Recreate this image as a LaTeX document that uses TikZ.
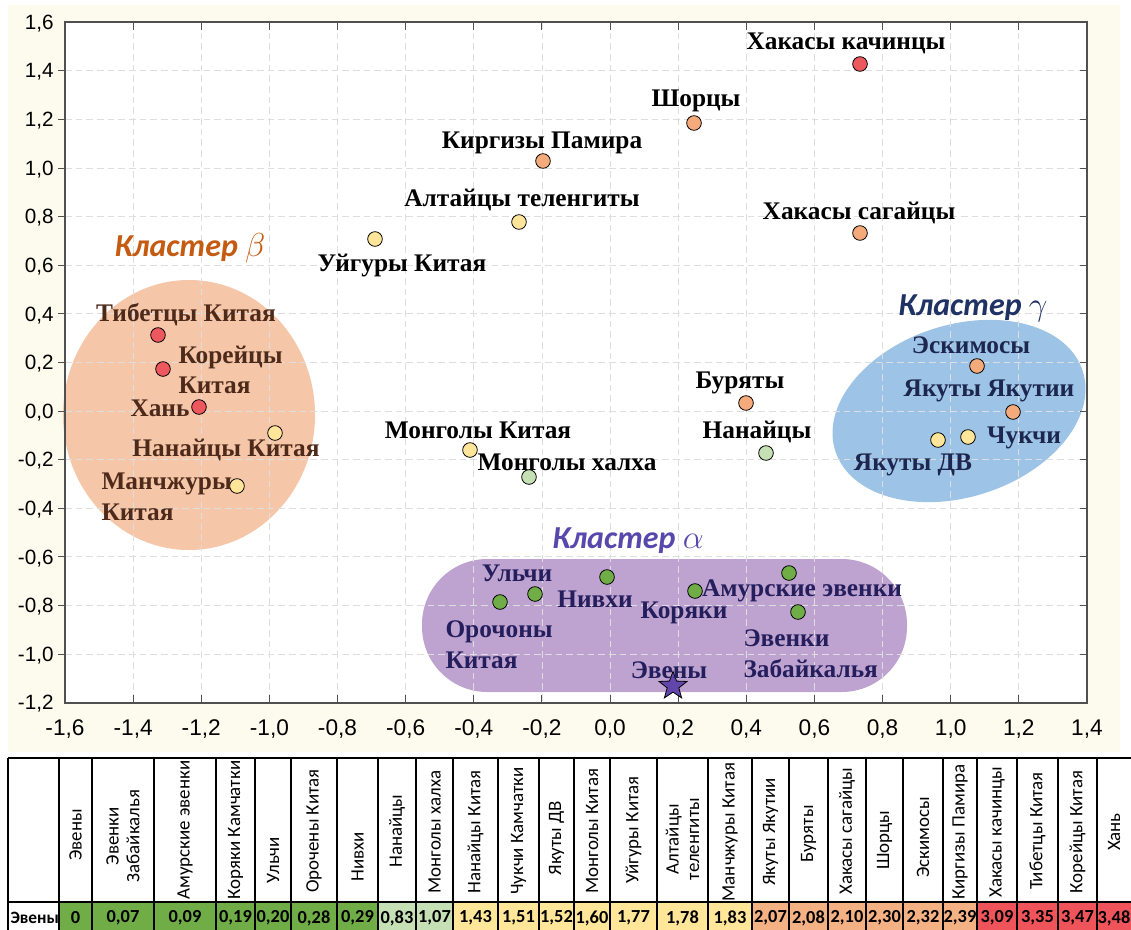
\documentclass[tikz,border=0pt]{standalone}
\usepackage{fontspec}
\setmainfont{Liberation Serif}
\newfontfamily\axisfont{Liberation Sans}
\newfontfamily\tablefont{Carlito}
\usetikzlibrary{shapes.geometric}

\definecolor{bgCream}{RGB}{252,251,238}
\definecolor{gridGray}{RGB}{222,222,222}
\definecolor{frameGray}{RGB}{80,80,80}
\definecolor{betaFill}{RGB}{245,198,168}
\definecolor{gammaFill}{RGB}{157,195,230}
\definecolor{alphaFill}{RGB}{190,162,208}
\definecolor{betaText}{RGB}{197,90,17}
\definecolor{gammaText}{RGB}{31,50,100}
\definecolor{alphaText}{RGB}{88,72,172}
\definecolor{brownLbl}{RGB}{78,42,26}
\definecolor{navyLbl}{RGB}{28,38,78}
\definecolor{indigoLbl}{RGB}{36,30,92}
\definecolor{dRed}{RGB}{236,88,94}
\definecolor{dOrange}{RGB}{244,170,122}
\definecolor{dYellow}{RGB}{255,229,153}
\definecolor{dLight}{RGB}{197,224,180}
\definecolor{dGreen}{RGB}{112,173,71}
\definecolor{starPurple}{RGB}{98,70,172}
\definecolor{tGreen}{RGB}{112,173,71}
\definecolor{tLight}{RGB}{197,224,180}
\definecolor{tYellow}{RGB}{255,230,153}
\definecolor{tOrange}{RGB}{244,177,131}
\definecolor{tRed}{RGB}{238,84,90}

\tikzset{every picture/.style={line width=0.75pt}}
\tikzset{
  popdot/.style={circle,draw=black,line width=0.6pt,inner sep=0pt,minimum size=11pt},
  poplabel/.style={inner sep=0.75pt,align=left,font=\fontsize{19}{23}\selectfont\bfseries},
  clustertitle/.style={inner sep=0.75pt,font=\tablefont\fontsize{24}{29}\selectfont\bfseries\itshape},
  gridline/.style={gridGray,line width=0.6pt,dash pattern=on 5pt off 3pt},
  axislabel/.style={inner sep=0.75pt,font=\axisfont\fontsize{15.5}{18}\selectfont},
  hdrtext/.style={inner sep=0.75pt,rotate=90,align=center,font=\tablefont\fontsize{14.2}{15.5}\selectfont},
  valtext/.style={inner sep=0.75pt,font=\tablefont\fontsize{13.8}{15}\selectfont\bfseries},
  tableline/.style={black,line width=0.9pt}
}

\begin{document}
\begin{tikzpicture}[x=0.75pt,y=0.75pt,yscale=-1,xscale=1]
\useasboundingbox (0,0) rectangle (1131,929);

%Background of the plot
\fill[bgCream] (8,5) rectangle (1120,752);
\fill[white] (65,22) rectangle (1087,703);

%Shape: Cluster beta
\fill[betaFill] (189,415) ellipse (126 and 135);
%Shape: Cluster gamma
\fill[gammaFill,rotate around={-18:(959,411)}] (959,411) ellipse (130 and 86);
%Shape: Cluster alpha
\fill[alphaFill,rounded corners=49pt] (422,559) rectangle (907,692);

%Grid lines
\foreach \k in {1,...,14} \draw[gridline] ({65+\k*68.13},22) -- ({65+\k*68.13},703);
\foreach \k in {1,...,13} \draw[gridline] (65,{702.6-\k*48.6}) -- (1087,{702.6-\k*48.6});

%Ticks
\foreach \k in {1,...,14} {
  \draw[frameGray] ({65+\k*68.13},22) -- ({65+\k*68.13},30);
  \draw[frameGray] ({65+\k*68.13},703) -- ({65+\k*68.13},695);
}
\foreach \k in {1,...,13} {
  \draw[frameGray] (65,{702.6-\k*48.6}) -- (58,{702.6-\k*48.6});
  \draw[frameGray] (1087,{702.6-\k*48.6}) -- (1080,{702.6-\k*48.6});
}
%Frame
\draw[frameGray,line width=0.9pt] (65,22) rectangle (1087,703);

% Axis labels
\foreach \k/\t in {0/{-1,6},1/{-1,4},2/{-1,2},3/{-1,0},4/{-0,8},5/{-0,6},6/{-0,4},7/{-0,2},8/{0,0},9/{0,2},10/{0,4},11/{0,6},12/{0,8},13/{1,0},14/{1,2},15/{1,4}}
  \node[axislabel,font=\axisfont\fontsize{17}{19}\selectfont] (xl\k) at ({65+\k*68.13},729) {\t};
\foreach \k/\t in {0/{-1,2},1/{-1,0},2/{-0,8},3/{-0,6},4/{-0,4},5/{-0,2},6/{0,0},7/{0,2},8/{0,4},9/{0,6},10/{0,8},11/{1,0},12/{1,2},13/{1,4},14/{1,6}}
  \node[axislabel,anchor=east] (yl\k) at (55,{704-\k*48.6}) {\t};

% Cluster titles
\node[clustertitle,text=betaText] (titleBeta) at (190,248) {Кластер $\beta$};
\node[clustertitle,text=gammaText] (titleGamma) at (973,308) {Кластер $\gamma$};
\node[clustertitle,text=alphaText] (titleAlpha) at (628,541) {Кластер $\alpha$};

%Shape: Circles (populations)
\node[popdot,fill=dRed] (khkDot) at (860,64) {};
\node[popdot,fill=dOrange] (shoDot) at (694,123) {};
\node[popdot,fill=dOrange] (kirDot) at (543,161) {};
\node[popdot,fill=dYellow] (altDot) at (519,222) {};
\node[popdot,fill=dOrange] (khsDot) at (860,233) {};
\node[popdot,fill=dYellow] (uygDot) at (375,239) {};
\node[popdot,fill=dRed] (tibDot) at (158,335) {};
\node[popdot,fill=dRed] (korDot) at (163,369) {};
\node[popdot,fill=dRed] (hanDot) at (199,407) {};
\node[popdot,fill=dYellow] (nnkDot) at (275,433) {};
\node[popdot,fill=dYellow] (manDot) at (237,486) {};
\node[popdot,fill=dYellow] (mgkDot) at (470,450) {};
\node[popdot,fill=dLight] (mghDot) at (529,477) {};
\node[popdot,fill=dOrange] (burDot) at (746,403) {};
\node[popdot,fill=dLight] (nanDot) at (766,453) {};
\node[popdot,fill=dOrange] (eskDot) at (977,366) {};
\node[popdot,fill=dOrange] (yakDot) at (1013,412) {};
\node[popdot,fill=dYellow] (chuDot) at (968,437) {};
\node[popdot,fill=dYellow] (ydvDot) at (938,440) {};
\node[popdot,fill=dGreen] (ulcDot) at (535,594) {};
\node[popdot,fill=dGreen] (oroDot) at (500,602) {};
\node[popdot,fill=dGreen] (nivDot) at (607,577) {};
\node[popdot,fill=dGreen] (kryDot) at (695,591) {};
\node[popdot,fill=dGreen] (amuDot) at (789,573) {};
\node[popdot,fill=dGreen] (ezbDot) at (798,612) {};
%Shape: Star
\node[star,star points=5,star point ratio=2.4,minimum size=22pt,inner sep=0pt,fill=starPurple,draw=black,line width=0.6pt] (evnStar) at (673,686) {};

% Text Node
\node[poplabel] (khkLbl) at (846,43) {Хакасы качинцы};
\node[poplabel] (shoLbl) at (696,101) {Шорцы};
\node[poplabel] (kirLbl) at (542,143) {Киргизы Памира};
\node[poplabel] (altLbl) at (522,200) {Алтайцы теленгиты};
\node[poplabel] (khsLbl) at (859,213) {Хакасы сагайцы};
\node[poplabel] (uygLbl) at (402,266) {Уйгуры Китая};
% Text Node
\node[poplabel,text=brownLbl] (tibLbl) at (186,315) {Тибетцы Китая};
\node[poplabel,text=brownLbl,anchor=west] (korLbl) at (177,370) {Корейцы\\Китая};
\node[poplabel,text=brownLbl] (hanLbl) at (160,408) {Хань};
\node[poplabel,text=brownLbl] (nnkLbl) at (226,450) {Нанайцы Китая};
\node[poplabel,text=brownLbl,anchor=west] (manLbl) at (100,497) {Манчжуры\\Китая};
% Text Node
\node[poplabel] (mgkLbl) at (478,430) {Монголы Китая};
\node[poplabel] (mghLbl) at (567,462) {Монголы халха};
\node[poplabel] (burLbl) at (740,383) {Буряты};
\node[poplabel] (nanLbl) at (757,432) {Нанайцы};
% Text Node
\node[poplabel,text=navyLbl] (eskLbl) at (971,345) {Эскимосы};
\node[poplabel,text=navyLbl] (yakLbl) at (989,391) {Якуты Якутии};
\node[poplabel,text=navyLbl] (chuLbl) at (1024,438) {Чукчи};
\node[poplabel,text=navyLbl] (ydvLbl) at (913,465) {Якуты ДВ};
% Text Node
\node[poplabel,text=indigoLbl] (ulcLbl) at (517,573) {Ульчи};
\node[poplabel,text=indigoLbl,anchor=west] (oroLbl) at (444,645) {Орочоны\\Китая};
\node[poplabel,text=indigoLbl] (nivLbl) at (595,599) {Нивхи};
\node[poplabel,text=indigoLbl] (kryLbl) at (684,613) {Коряки};
\node[poplabel,text=indigoLbl] (amuLbl) at (802,591) {Амурские эвенки};
\node[poplabel,text=indigoLbl,anchor=west] (ezbLbl) at (742,654) {Эвенки\\Забайкалья};
\node[poplabel,text=indigoLbl] (evnLbl) at (669,670) {Эвены};

%Table of distances
\foreach \xa/\xb/\hd/\val/\cl/\yc in {
  59/92/Эвены/0/tGreen/835,
  92/154/{Эвенки\\Забайкалья}/{0,07}/tGreen/836,
  154/216/Амурские эвенки/{0,09}/tGreen/830,
  216/255/Коряки Камчатки/{0,19}/tGreen/830,
  255/291/Ульчи/{0,20}/tGreen/860,
  291/337/Орочены Китая/{0,28}/tGreen/831,
  337/378/Нивхи/{0,29}/tGreen/857,
  378/416/Нанайцы/{0,83}/tLight/831,
  416/453/Монголы халха/{1,07}/tLight/832,
  453/498/Нанайцы Китая/{1,43}/tYellow/832,
  498/539/Чукчи Камчатки/{1,51}/tYellow/831,
  539/574/Якуты ДВ/{1,52}/tYellow/838,
  574/610/Монголы Китая/{1,60}/tYellow/831,
  610/657/Уйгуры Китая/{1,77}/tYellow/830,
  657/708/{Алтайцы\\теленгиты}/{1,78}/tYellow/839,
  708/752/Манчжуры Китая/{1,83}/tYellow/832,
  752/789/Якуты Якутии/{2,07}/tOrange/832,
  789/828/Буряты/{2,08}/tOrange/834,
  828/866/Хакасы сагайцы/{2,10}/tOrange/831,
  866/903/Шорцы/{2,30}/tOrange/840,
  903/943/Эскимосы/{2,32}/tOrange/837,
  943/977/Киргизы Памира/{2,39}/tOrange/832,
  977/1017/Хакасы качинцы/{3,09}/tRed/832,
  1017/1058/Тибетцы Китая/{3,35}/tRed/831,
  1058/1097/Корейцы Китая/{3,47}/tRed/832,
  1097/1131/Хань/{3,48}/tRed/832} {
  \fill[\cl] (\xa,902) rectangle (\xb,935);
  \node[hdrtext] (hd\xa) at ({(\xa+\xb)/2},\yc) {\hd};
  \node[valtext] (val\xa) at ({(\xa+\xb)/2},918) {\val};
  \draw[tableline] (\xa,758) -- (\xa,935);
}
\node[valtext,anchor=west,font=\tablefont\fontsize{13}{15}\selectfont\bfseries] (rowLbl) at (9,918) {Эвены};
\draw[tableline] (8,758) -- (8,935);
\draw[tableline] (8,758) -- (1131,758);
\draw[tableline] (8,902) -- (1131,902);

\end{tikzpicture}
\end{document}
